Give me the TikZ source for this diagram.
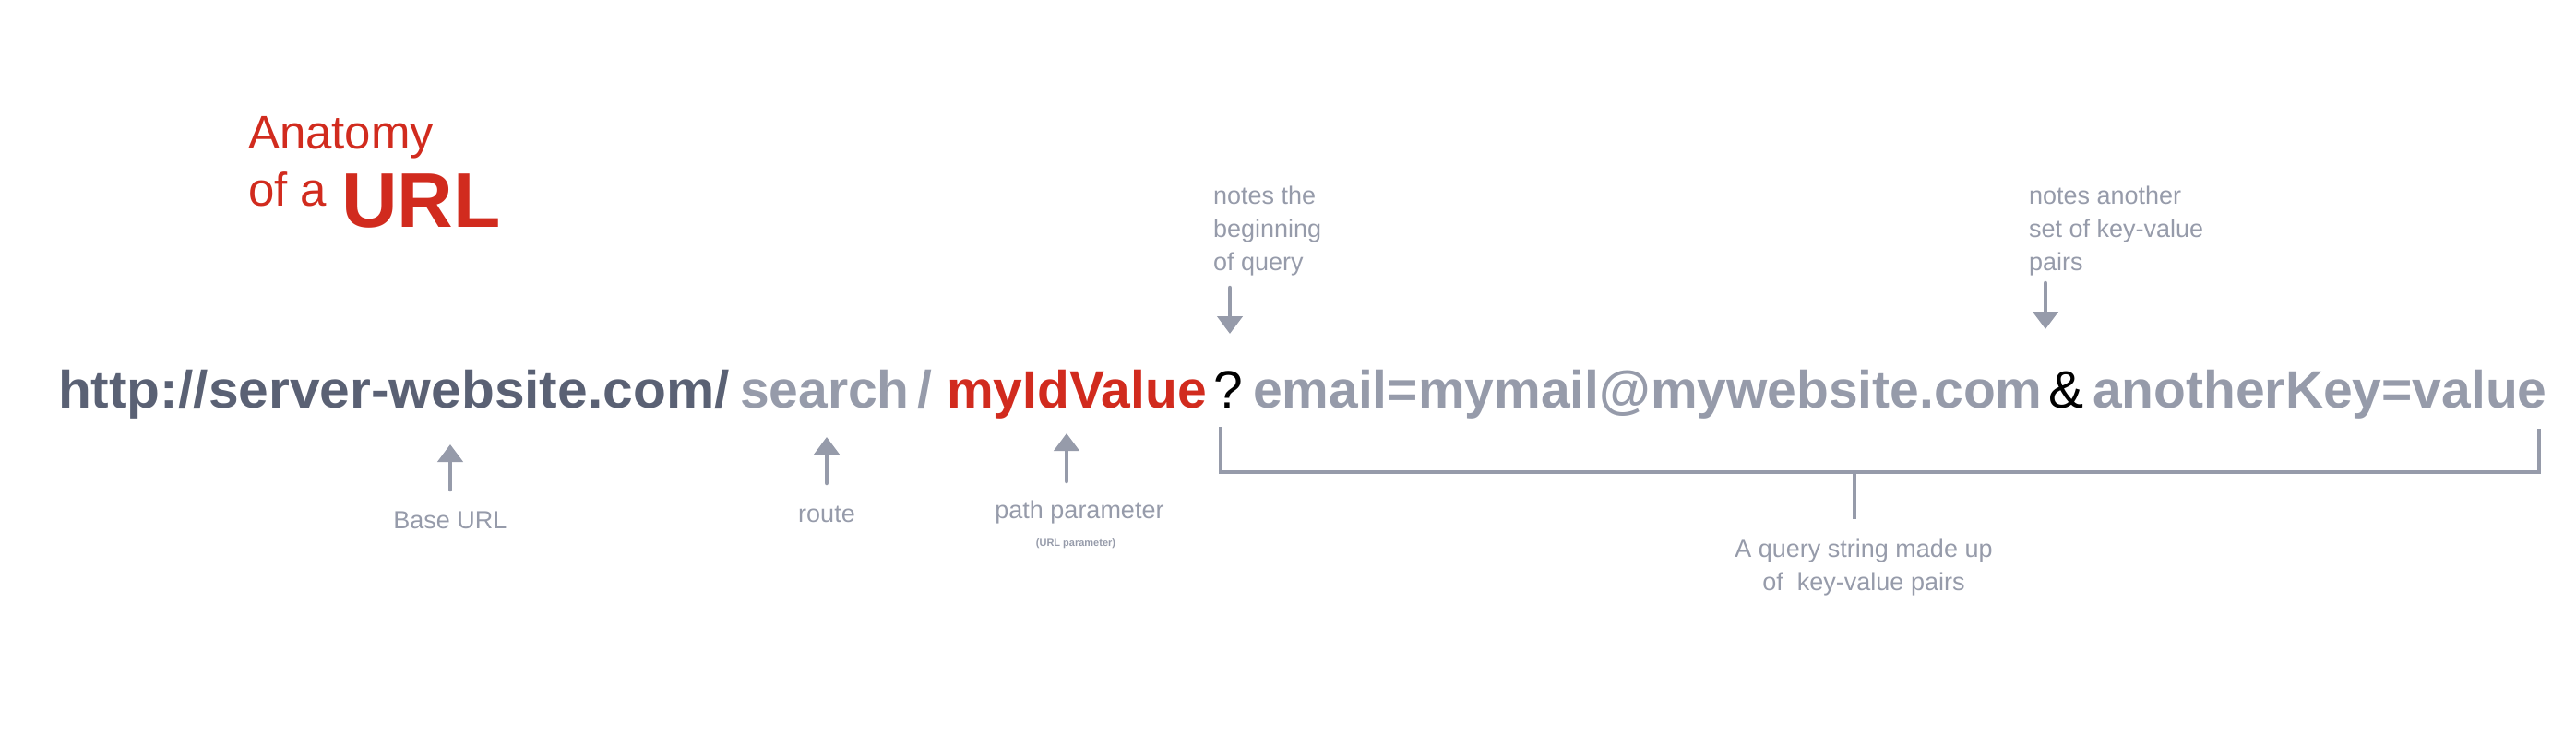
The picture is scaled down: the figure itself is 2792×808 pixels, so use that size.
\documentclass[tikz,border=0pt]{standalone}
\usepackage{fontspec}
\setmainfont{Liberation Sans}
\usetikzlibrary{arrows.meta}
\definecolor{urlred}{HTML}{D12B1E}
\definecolor{slate}{HTML}{5A6174}
\definecolor{softgrey}{HTML}{969BAA}
\tikzset{
  txt/.style={inner sep=0pt, outer sep=0pt, anchor=base west},
  urlpart/.style={txt, font=\fontsize{57}{60}\selectfont\bfseries},
  urlsep/.style={txt, font=\fontsize{57}{60}\selectfont, text=black},
  lbl/.style={inner sep=0pt, outer sep=0pt, text=softgrey, font=\fontsize{27}{36}\selectfont},
  pointer/.style={draw=softgrey, line width=4.5pt, line cap=round, -{Triangle[width=27pt,length=19pt]}},
  bracket/.style={draw=softgrey, line width=4pt}
}
\begin{document}
\begin{tikzpicture}[x=1pt,y=1pt]
\useasboundingbox (0,0) rectangle (2792,-808);
% title
\node[txt, text=urlred, font=\fontsize{51}{60}\selectfont] (t1) at (269,-161) {Anatomy};
\node[txt, text=urlred, font=\fontsize{51}{60}\selectfont] (t2) at (269,-223) {of a};
\node[txt, text=urlred, font=\fontsize{84}{90}\selectfont\bfseries] (t3) at (370,-246) {URL};
% url line
\node[urlpart, text=slate] (base) at (63,-442) {\scalebox{1.03}[1]{http://server-website.com/}};
\node[urlpart, text=softgrey] (route) at (802,-442) {search};
\node[urlpart, text=softgrey] (slash) at (994,-442) {/};
\node[urlpart, text=urlred] (param) at (1026,-442) {myIdValue};
\node[urlsep] (qm) at (1315,-442) {?};
\node[urlpart, text=softgrey] (email) at (1358,-442) {email=mymail@mywebsite.com};
\node[urlsep] (amp) at (2220,-442) {\&};
\node[urlpart, text=softgrey] (another) at (2268,-442) {anotherKey=value};
% labels below
\node[lbl, anchor=base] (lbase) at (488,-573) {Base URL};
\node[lbl, anchor=base] (lroute) at (896,-566) {route};
\node[lbl, anchor=base] (lparam) at (1170,-562) {path parameter};
\node[inner sep=0pt, text=softgrey, font=\fontsize{11}{12}\selectfont\bfseries, anchor=base] (lparam2) at (1166,-592) {(URL parameter)};
\node[lbl, anchor=base] (lquery) at (2020,-604) {\begin{tabular}[t]{@{}c@{}}A query string made up\\of \ key-value pairs\end{tabular}};
% labels above
\node[lbl, anchor=base west] (lq) at (1315,-221) {\begin{tabular}[t]{@{}l@{}}notes the\\beginning\\of query\end{tabular}};
\node[lbl, anchor=base west] (lamp) at (2199,-221) {\begin{tabular}[t]{@{}l@{}}notes another\\set of key-value\\pairs\end{tabular}};
% arrow coordinates
\coordinate (a1s) at (488,-531); \coordinate (a1e) at (488,-482);
\coordinate (a2s) at (896,-524); \coordinate (a2e) at (896,-474);
\coordinate (a3s) at (1156,-522); \coordinate (a3e) at (1156,-470);
\coordinate (a4s) at (1333,-312); \coordinate (a4e) at (1333,-362);
\coordinate (a5s) at (2217,-307); \coordinate (a5e) at (2217,-357);
\draw[pointer] (a1s) -- (a1e);
\draw[pointer] (a2s) -- (a2e);
\draw[pointer] (a3s) -- (a3e);
\draw[pointer] (a4s) -- (a4e);
\draw[pointer] (a5s) -- (a5e);
% bracket
\coordinate (bl) at (1323,-463);
\coordinate (br) at (2752,-465);
\coordinate (bm) at (2010,-512);
\coordinate (bstem) at (2010,-563);
\draw[bracket] (bl) |- (bm) -| (br);
\draw[bracket] (bm) -- (bstem);
\end{tikzpicture}
\end{document}
